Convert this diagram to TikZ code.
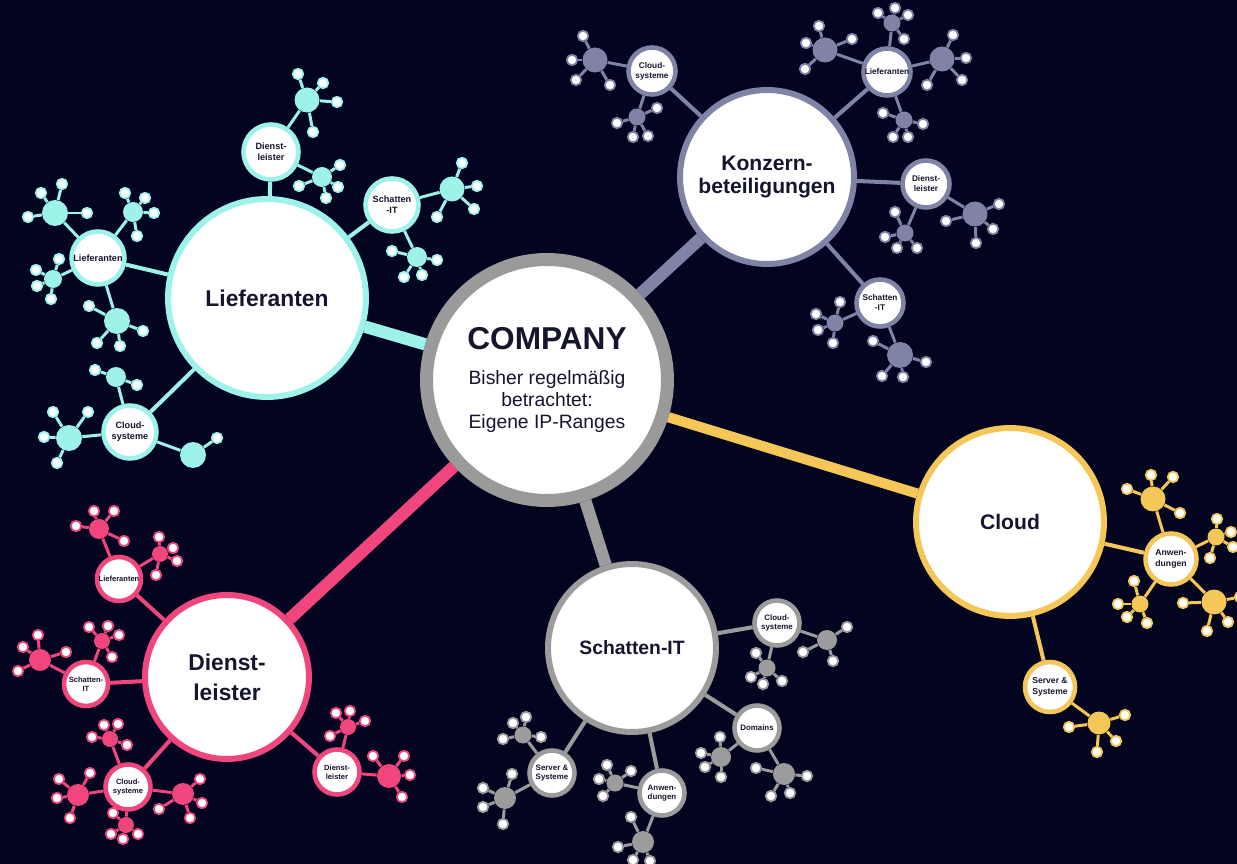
\documentclass[tikz,border=0pt]{standalone}
\usepackage{fontspec}
\setmainfont{Liberation Sans}

\definecolor{night}{HTML}{03041F}
\definecolor{ink}{HTML}{15152E}
\definecolor{lief}{HTML}{9DF3EA}
\definecolor{konz}{HTML}{7F83A6}
\definecolor{cloud}{HTML}{F4C758}
\definecolor{schat}{HTML}{9C9C9C}
\definecolor{dien}{HTML}{F0467D}
\definecolor{corering}{HTML}{9A9A9A}
\colorlet{brcol}{lief}

\newcommand{\fs}[2]{\fontsize{#1}{#2}\selectfont}
% hub with its leaves: parent, name, position, hub size, leaf positions
\newcommand{\twigcluster}[5]{%
  \node[hubdot, minimum size=#4] (#2) at #3 {};
  \draw[twig] (#1) -- (#2);
  \foreach \lp [count=\k] in {#5}{
    \node[leafdot] (#2-\k) at \lp {};
    \draw[twig] (#2) -- (#2-\k);
  }%
}

\begin{document}
\begin{tikzpicture}[
            x=0.02cm, y=-0.02cm,
            big/.style = {circle, draw=brcol, fill=white, line width=3.4pt,
                    inner sep=0pt, align=center, text=ink},
            mid/.style = {circle, draw=brcol, fill=white, line width=2.6pt,
                    inner sep=0pt, align=center, text=ink},
            hubdot/.style = {circle, fill=brcol, inner sep=0pt},
            leafdot/.style = {circle, draw=brcol, fill=white, line width=1pt,
                    inner sep=0pt, minimum size=0.21cm},
            twig/.style = {brcol, line width=1.7pt},
            stem/.style = {brcol, line width=2.3pt},
            trunk/.style = {line width=7pt}]

        \fill[night] (0,0) rectangle (1237,864);
        \useasboundingbox (0,0) rectangle (1237,864);

        \node [circle, draw=corering, fill=white, line width=7.4pt, minimum size=4.82cm,
            inner sep=0pt, align=center, text=ink, font=\fs{11}{12.5}] (company) at (547,380)
            {{\bfseries\fs{18}{21}COMPANY}\\[7pt] Bisher regelmäßig\\ betrachtet:\\ Eigene IP-Ranges};

        % Lieferanten
        \begin{scope}
        \colorlet{brcol}{lief}
        \node [big, minimum size=3.96cm, font=\bfseries\fs{13}{15}] (lief) at (267,298) {Lieferanten};
        \node [mid, minimum size=1.1cm, font=\bfseries\fs{5.2}{6.2}] (lief-dl) at (271,152) {Dienst-\\leister};
        \node [mid, minimum size=1.06cm, font=\bfseries\fs{5.2}{6.2}] (lief-st) at (392,205) {Schatten\\-IT};
        \node [mid, minimum size=1.06cm, font=\bfseries\fs{5.2}{6.2}] (lief-lf) at (98,258) {Lieferanten};
        \node [mid, minimum size=1.06cm, font=\bfseries\fs{5.2}{6.2}] (lief-cs) at (130,432) {Cloud-\\systeme};
        \draw [stem] (lief) -- (lief-dl) (lief) -- (lief-st) (lief) -- (lief-lf) (lief) -- (lief-cs);
        \twigcluster{lief-dl}{lief-dl-a}{(307,100)}{0.5cm}{(298,74),(323,83),(337,102),(313,132)}
        \twigcluster{lief-dl}{lief-dl-b}{(322,177)}{0.4cm}{(340,165),(338,187),(326,198),(299,186)}
        \twigcluster{lief-st}{lief-st-a}{(452,189)}{0.5cm}{(462,163),(477,186),(474,209),(437,217)}
        \twigcluster{lief-st}{lief-st-b}{(417,257)}{0.4cm}{(392,251),(437,260),(422,275),(404,277)}
        \twigcluster{lief-lf}{lief-lf-a}{(55,213)}{0.52cm}{(41,193),(62,184),(28,217),(87,213)}
        \twigcluster{lief-lf}{lief-lf-b}{(133,212)}{0.4cm}{(125,193),(145,198),(154,213),(137,236)}
        \twigcluster{lief-lf}{lief-lf-c}{(53,279)}{0.36cm}{(59,259),(36,270),(37,286),(51,299)}
        \twigcluster{lief-lf}{lief-lf-d}{(117,321)}{0.52cm}{(89,306),(143,331),(120,346),(97,343)}
        \twigcluster{lief-cs}{lief-cs-a}{(116,377)}{0.4cm}{(95,370),(137,385)}
        \twigcluster{lief-cs}{lief-cs-b}{(69,438)}{0.52cm}{(53,412),(88,412),(44,437),(57,463)}
        \twigcluster{lief-cs}{lief-cs-c}{(193,455)}{0.52cm}{(217,438)}
        \end{scope}

        % Konzernbeteiligungen
        \begin{scope}
        \colorlet{brcol}{konz}
        \node [big, minimum size=3.48cm, font=\bfseries\fs{12}{13.5}] (konz) at (767,177) {Konzern-\\beteiligungen};
        \node [mid, minimum size=0.94cm, font=\bfseries\fs{4.7}{5.7}] (konz-cs) at (652,71) {Cloud-\\systeme};
        \node [mid, minimum size=0.94cm, font=\bfseries\fs{4.7}{5.7}] (konz-lf) at (887,72) {Lieferanten};
        \node [mid, minimum size=0.94cm, font=\bfseries\fs{4.7}{5.7}] (konz-dl) at (926,184) {Dienst-\\leister};
        \node [mid, minimum size=0.94cm, font=\bfseries\fs{4.7}{5.7}] (konz-st) at (880,303) {Schatten\\-IT};
        \draw [stem] (konz) -- (konz-cs) (konz) -- (konz-lf) (konz) -- (konz-dl) (konz) -- (konz-st);
        \twigcluster{konz-cs}{konz-cs-a}{(595,60)}{0.5cm}{(583,36),(572,60),(576,80),(610,85)}
        \twigcluster{konz-cs}{konz-cs-b}{(637,117)}{0.34cm}{(657,108),(617,123),(633,137),(648,136)}
        \twigcluster{konz-lf}{konz-lf-a}{(892,23)}{0.34cm}{(878,13),(895,8),(908,15),(904,39)}
        \twigcluster{konz-lf}{konz-lf-b}{(825,50)}{0.5cm}{(819,26),(806,43),(805,69),(852,39)}
        \twigcluster{konz-lf}{konz-lf-c}{(942,59)}{0.5cm}{(953,35),(966,58),(962,80),(927,85)}
        \twigcluster{konz-lf}{konz-lf-d}{(904,120)}{0.34cm}{(883,113),(923,124),(893,137),(908,137)}
        \twigcluster{konz-dl}{konz-dl-a}{(975,214)}{0.5cm}{(999,204),(993,229),(976,243),(946,221)}
        \twigcluster{konz-dl}{konz-dl-b}{(905,233)}{0.34cm}{(895,212),(885,237),(897,248),(917,248)}
        \twigcluster{konz-st}{konz-st-a}{(835,323)}{0.34cm}{(816,314),(840,302),(818,330),(833,343)}
        \twigcluster{konz-st}{konz-st-b}{(900,355)}{0.52cm}{(873,341),(926,362),(882,376),(903,377)}
        \end{scope}

        % Cloud
        \begin{scope}
        \colorlet{brcol}{cloud}
        \node [big, minimum size=3.76cm, font=\bfseries\fs{12}{14}] (cloud) at (1010,522) {Cloud};
        \node [mid, minimum size=1.02cm, font=\bfseries\fs{4.9}{5.9}] (cloud-an) at (1171,559) {Anwen-\\dungen};
        \node [mid, minimum size=1.0cm, font=\bfseries\fs{4.9}{5.9}] (cloud-ss) at (1050,687) {Server \&\\Systeme};
        \draw [stem] (cloud) -- (cloud-an) (cloud) -- (cloud-ss);
        \twigcluster{cloud-an}{cloud-an-a}{(1153,499)}{0.5cm}{(1151,475),(1173,477),(1127,489),(1180,513)}
        \twigcluster{cloud-an}{cloud-an-b}{(1216,537)}{0.34cm}{(1217,519),(1231,532),(1233,547),(1210,558)}
        \twigcluster{cloud-an}{cloud-an-c}{(1140,604)}{0.34cm}{(1134,581),(1118,604),(1127,617),(1147,623)}
        \twigcluster{cloud-an}{cloud-an-d}{(1214,602)}{0.5cm}{(1183,603),(1207,631),(1228,622),(1240,597)}
        \twigcluster{cloud-ss}{cloud-ss-a}{(1099,723)}{0.46cm}{(1069,727),(1125,715),(1116,741),(1097,752)}
        \end{scope}

        % Schatten-IT
        \begin{scope}
        \colorlet{brcol}{schat}
        \node [big, minimum size=3.36cm, font=\bfseries\fs{11}{13}] (schat) at (632,648) {Schatten-IT};
        \node [mid, minimum size=0.9cm, font=\bfseries\fs{4.5}{5.5}] (schat-cs) at (777,623) {Cloud-\\systeme};
        \node [mid, minimum size=0.9cm, font=\bfseries\fs{4.5}{5.5}] (schat-do) at (757,728) {Domains};
        \node [mid, minimum size=0.9cm, font=\bfseries\fs{4.5}{5.5}] (schat-an) at (662,793) {Anwen-\\dungen};
        \node [mid, minimum size=0.9cm, font=\bfseries\fs{4.5}{5.5}] (schat-ss) at (552,773) {Server \&\\Systeme};
        \draw [stem] (schat) -- (schat-cs) (schat) -- (schat-do) (schat) -- (schat-an) (schat) -- (schat-ss);
        \twigcluster{schat-cs}{schat-cs-a}{(827,640)}{0.4cm}{(847,627),(803,652),(833,661)}
        \twigcluster{schat-cs}{schat-cs-b}{(767,668)}{0.34cm}{(756,653),(751,677),(763,684),(782,681)}
        \twigcluster{schat-do}{schat-do-a}{(721,757)}{0.4cm}{(720,737),(701,753),(705,767),(721,777)}
        \twigcluster{schat-do}{schat-do-b}{(784,774)}{0.44cm}{(756,768),(807,776),(790,793),(771,796)}
        \twigcluster{schat-an}{schat-an-a}{(615,783)}{0.34cm}{(607,765),(631,771),(599,779),(603,796)}
        \twigcluster{schat-an}{schat-an-b}{(643,842)}{0.44cm}{(631,817),(618,847),(633,860),(650,861)}
        \twigcluster{schat-ss}{schat-ss-a}{(523,735)}{0.34cm}{(513,723),(526,717),(541,737),(503,739)}
        \twigcluster{schat-ss}{schat-ss-b}{(505,798)}{0.44cm}{(512,774),(483,788),(483,807),(503,824)}
        \end{scope}

        % Dienstleister
        \begin{scope}
        \colorlet{brcol}{dien}
        \node [big, minimum size=3.28cm, font=\bfseries\fs{13}{17}] (dien) at (227,677) {Dienst-\\leister};
        \node [mid, minimum size=0.88cm, font=\bfseries\fs{4.3}{5.3}] (dien-lf) at (119,579) {Lieferanten};
        \node [mid, minimum size=0.88cm, font=\bfseries\fs{4.3}{5.3}] (dien-st) at (86,684) {Schatten-\\IT};
        \node [mid, minimum size=0.9cm, font=\bfseries\fs{4.3}{5.3}] (dien-cs) at (128,787) {Cloud-\\systeme};
        \node [mid, minimum size=0.9cm, font=\bfseries\fs{4.3}{5.3}] (dien-dl) at (337,772) {Dienst-\\leister};
        \draw [stem] (dien) -- (dien-lf) (dien) -- (dien-st) (dien) -- (dien-cs) (dien) -- (dien-dl);
        \twigcluster{dien-lf}{dien-lf-a}{(99,529)}{0.4cm}{(94,511),(114,511),(76,526),(124,541)}
        \twigcluster{dien-lf}{dien-lf-b}{(160,554)}{0.32cm}{(159,537),(173,548),(177,561),(156,575)}
        \twigcluster{dien-st}{dien-st-a}{(40,660)}{0.44cm}{(38,635),(23,647),(18,671),(66,652)}
        \twigcluster{dien-st}{dien-st-b}{(102,641)}{0.32cm}{(89,627),(108,626),(119,635),(112,657)}
        \twigcluster{dien-cs}{dien-cs-a}{(110,739)}{0.32cm}{(104,725),(118,724),(127,745),(92,737)}
        \twigcluster{dien-cs}{dien-cs-b}{(78,795)}{0.44cm}{(59,779),(90,773),(57,798),(70,818)}
        \twigcluster{dien-cs}{dien-cs-c}{(183,794)}{0.44cm}{(200,779),(202,803),(190,818),(159,809)}
        \twigcluster{dien-cs}{dien-cs-d}{(126,825)}{0.32cm}{(113,813),(111,834),(123,839),(138,834)}
        \twigcluster{dien-dl}{dien-dl-a}{(348,727)}{0.32cm}{(336,713),(350,711),(365,721),(330,736)}
        \twigcluster{dien-dl}{dien-dl-b}{(389,776)}{0.48cm}{(373,756),(404,756),(410,775),(402,797)}
        \end{scope}

        %% trunks
        \draw [trunk, lief]  (company) -- (lief);
        \draw [trunk, konz]  (company) -- (konz);
        \draw [trunk, cloud, line width=5.8pt] (company) -- (cloud);
        \draw [trunk, schat] (company) -- (schat);
        \draw [trunk, dien]  (company) -- (dien);
    \end{tikzpicture}
\end{document}
